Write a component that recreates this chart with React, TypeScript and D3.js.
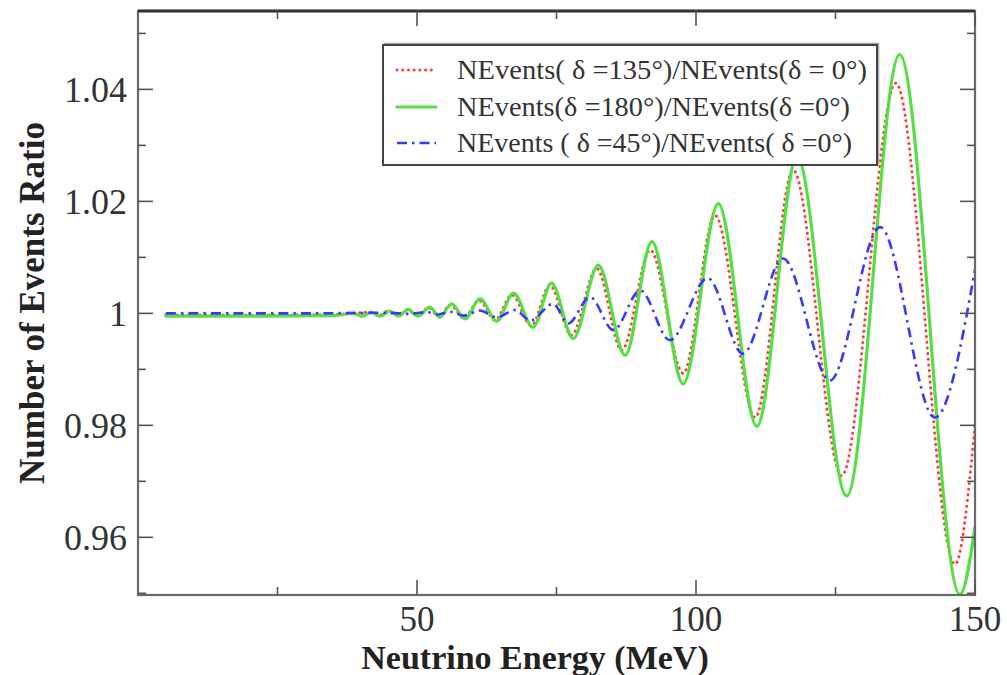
import * as d3 from "d3"

// energies (MeV) and event ratios, extrema only
const redE = [5, 20, 35, 41.6, 43.2, 44.7, 46.4, 48.2, 50.0, 52.1, 53.9, 56.0, 58.4, 61.1, 64.0, 67.0, 70.5, 73.8, 77.7, 82.2, 86.7, 91.8, 97.7, 103.4, 110.6, 117.4, 126.1, 135.8, 146.4, 150]
const redR = [0.9997, 0.9997, 0.9998, 1.0002, 0.9996, 1.0004, 0.9996, 1.0006, 0.9996, 1.001, 0.9994, 1.0015, 0.9991, 1.0023, 0.9988, 1.0033, 0.9978, 1.005, 0.9961, 1.008, 0.9934, 1.0113, 0.9893, 1.0175, 0.9814, 1.0256, 0.971, 1.0411, 0.9552, 0.98]

const greenE = [5, 20, 35, 38.5, 40.2, 41.8, 43.4, 45.1, 46.7, 48.4, 50.2, 52.3, 54.1, 56.2, 58.6, 61.3, 64.3, 67.3, 70.8, 74.1, 78.0, 82.5, 87.3, 92.1, 97.7, 104.0, 110.9, 118.1, 127.0, 136.5, 147.3, 150]
const greenR = [0.9995, 0.9995, 0.9996, 1.0, 0.9995, 1.0002, 0.9995, 1.0004, 0.9995, 1.0007, 0.9995, 1.0011, 0.9993, 1.0017, 0.999, 1.0026, 0.9986, 1.0036, 0.9975, 1.0054, 0.9955, 1.0086, 0.9925, 1.0128, 0.9874, 1.0196, 0.9798, 1.0279, 0.9674, 1.0462, 0.9498, 0.9618]

const blueE = [5, 30, 45, 48.5, 51.8, 53.8, 55.9, 58.4, 61.2, 64.3, 67.6, 70.3, 74.4, 77.1, 81.0, 85.2, 90.0, 95.3, 102.1, 108.4, 115.6, 124.0, 133.0, 142.8, 150]
const blueR = [1.0, 1.0, 1.0001, 0.9999, 1.0002, 0.9998, 1.0003, 0.9996, 1.0005, 0.9993, 1.0006, 0.9987, 1.0017, 0.9982, 1.0029, 0.997, 1.0041, 0.9952, 1.0063, 0.9928, 1.0098, 0.988, 1.0154, 0.9814, 1.0078]

const xTicksMajor = [50, 100, 150]
const xTicksMinor = [25, 75, 125]
const yTicksMajor = [0.96, 0.98, 1.0, 1.02, 1.04]
const yTicksMinor = [0.95, 0.97, 0.99, 1.01, 1.03, 1.05]
const yTickLabels = ["0.96", "0.98", "1", "1.02", "1.04"]

const legendLabels = [
  "NEvents( \u03b4 =135\u00b0)/NEvents(\u03b4 = 0\u00b0)",
  "NEvents(\u03b4 =180\u00b0)/NEvents(\u03b4 =0\u00b0)",
  "NEvents ( \u03b4 =45\u00b0)/NEvents( \u03b4 =0\u00b0)",
]
const legendWidths = [410, 393, 395]

const W = 1007
const H = 675
const left = 138
const right = 975
const top = 11
const bottom = 595
const serif = "'Liberation Serif', 'Times New Roman', serif"

const series = [
  { e: redE, r: redR, color: "#ff3b3b", width: 3, dash: "0.1 5.6", cap: "round" },
  { e: greenE, r: greenR, color: "#55df44", width: 3.2, dash: null, cap: "round" },
  { e: blueE, r: blueR, color: "#3838ff", width: 2.6, dash: "10 5 2.5 5", cap: "butt" },
]

export default function App() {
  const x = d3.scaleLinear().domain([0, 150]).range([left, right])
  const y = d3.scaleLinear().domain([0.9497, 1.054]).range([bottom, top])

  const line = d3
    .line<[number, number]>()
    .x((d) => x(d[0]))
    .y((d) => y(d[1]))
    .curve(d3.curveMonotoneX)

  const legendX = 383
  const legendY = 45
  const legendW = 494
  const legendH = 120
  const rowY = [70, 107, 143]

  return (
    <svg width={W} height={H} style={{ position: "absolute", left: 0, top: 0, background: "#fff" }}>
      <defs>
        <clipPath id="plot">
          <rect x={left} y={top} width={right - left} height={bottom - top} />
        </clipPath>
      </defs>

      {/* curves */}
      <g clipPath="url(#plot)">
        {series.map((s, i) => (
          <path
            key={i}
            d={line(s.e.map((v, j) => [v, s.r[j]] as [number, number])) || ""}
            fill="none"
            stroke={s.color}
            strokeWidth={s.width}
            strokeDasharray={s.dash || undefined}
            strokeLinecap={s.cap as any}
          />
        ))}
      </g>

      {/* frame */}
      <rect x={left} y={top} width={right - left} height={bottom - top} fill="none" stroke="#6a6a6a" strokeWidth={2.2} />
      <line x1={left} x2={right} y1={top} y2={top} stroke="#333" strokeWidth={3} />

      {/* x ticks, bottom and top */}
      {xTicksMajor.map((t) => (
        <g key={"xm" + t}>
          <line x1={x(t)} x2={x(t)} y1={bottom} y2={bottom - 15} stroke="#555" strokeWidth={1.6} />
          <line x1={x(t)} x2={x(t)} y1={top} y2={top + 15} stroke="#555" strokeWidth={1.6} />
          <text x={x(t)} y={631} textAnchor="middle" fontFamily={serif} fontSize={35} fill="#333">
            {t}
          </text>
        </g>
      ))}
      {xTicksMinor.map((t) => (
        <g key={"xn" + t}>
          <line x1={x(t)} x2={x(t)} y1={bottom} y2={bottom - 8} stroke="#555" strokeWidth={1.6} />
          <line x1={x(t)} x2={x(t)} y1={top} y2={top + 8} stroke="#555" strokeWidth={1.6} />
        </g>
      ))}

      {/* y ticks, left and right */}
      {yTicksMajor.map((t, i) => (
        <g key={"ym" + t}>
          <line x1={left} x2={left + 15} y1={y(t)} y2={y(t)} stroke="#555" strokeWidth={1.6} />
          <line x1={right} x2={right - 15} y1={y(t)} y2={y(t)} stroke="#555" strokeWidth={1.6} />
          <text x={127} y={y(t)} dy="0.34em" textAnchor="end" fontFamily={serif} fontSize={36} fill="#333">
            {yTickLabels[i]}
          </text>
        </g>
      ))}
      {yTicksMinor.map((t) => (
        <g key={"yn" + t}>
          <line x1={left} x2={left + 8} y1={y(t)} y2={y(t)} stroke="#555" strokeWidth={1.6} />
          <line x1={right} x2={right - 8} y1={y(t)} y2={y(t)} stroke="#555" strokeWidth={1.6} />
        </g>
      ))}

      {/* axis titles */}
      <text x={535} y={669} textAnchor="middle" fontFamily={serif} fontSize={34} fontWeight="bold" fill="#222">
        Neutrino Energy (MeV)
      </text>
      <text
        transform={`translate(44,${(top + bottom) / 2}) rotate(-90)`}
        textAnchor="middle"
        fontFamily={serif}
        fontSize={35}
        fontWeight="bold"
        fill="#222"
      >
        Number of Events Ratio
      </text>

      {/* legend */}
      <rect x={legendX + 1.5} y={legendY - 1.5} width={legendW} height={legendH} fill="none" stroke="#aaa" strokeWidth={1.5} />
      <rect x={legendX} y={legendY} width={legendW} height={legendH} fill="#fff" stroke="#444" strokeWidth={2} />
      {series.map((s, i) => (
        <g key={"lg" + i}>
          <line
            x1={397}
            x2={436}
            y1={rowY[i]}
            y2={rowY[i]}
            stroke={s.color}
            strokeWidth={s.width}
            strokeDasharray={s.dash || undefined}
            strokeLinecap={s.cap as any}
          />
          <text
            x={457}
            y={rowY[i]}
            dy="0.33em"
            fontFamily={serif}
            fontSize={27}
            fill="#333"
            textLength={legendWidths[i]}
            lengthAdjust="spacingAndGlyphs"
          >
            {legendLabels[i]}
          </text>
        </g>
      ))}
    </svg>
  )
}
